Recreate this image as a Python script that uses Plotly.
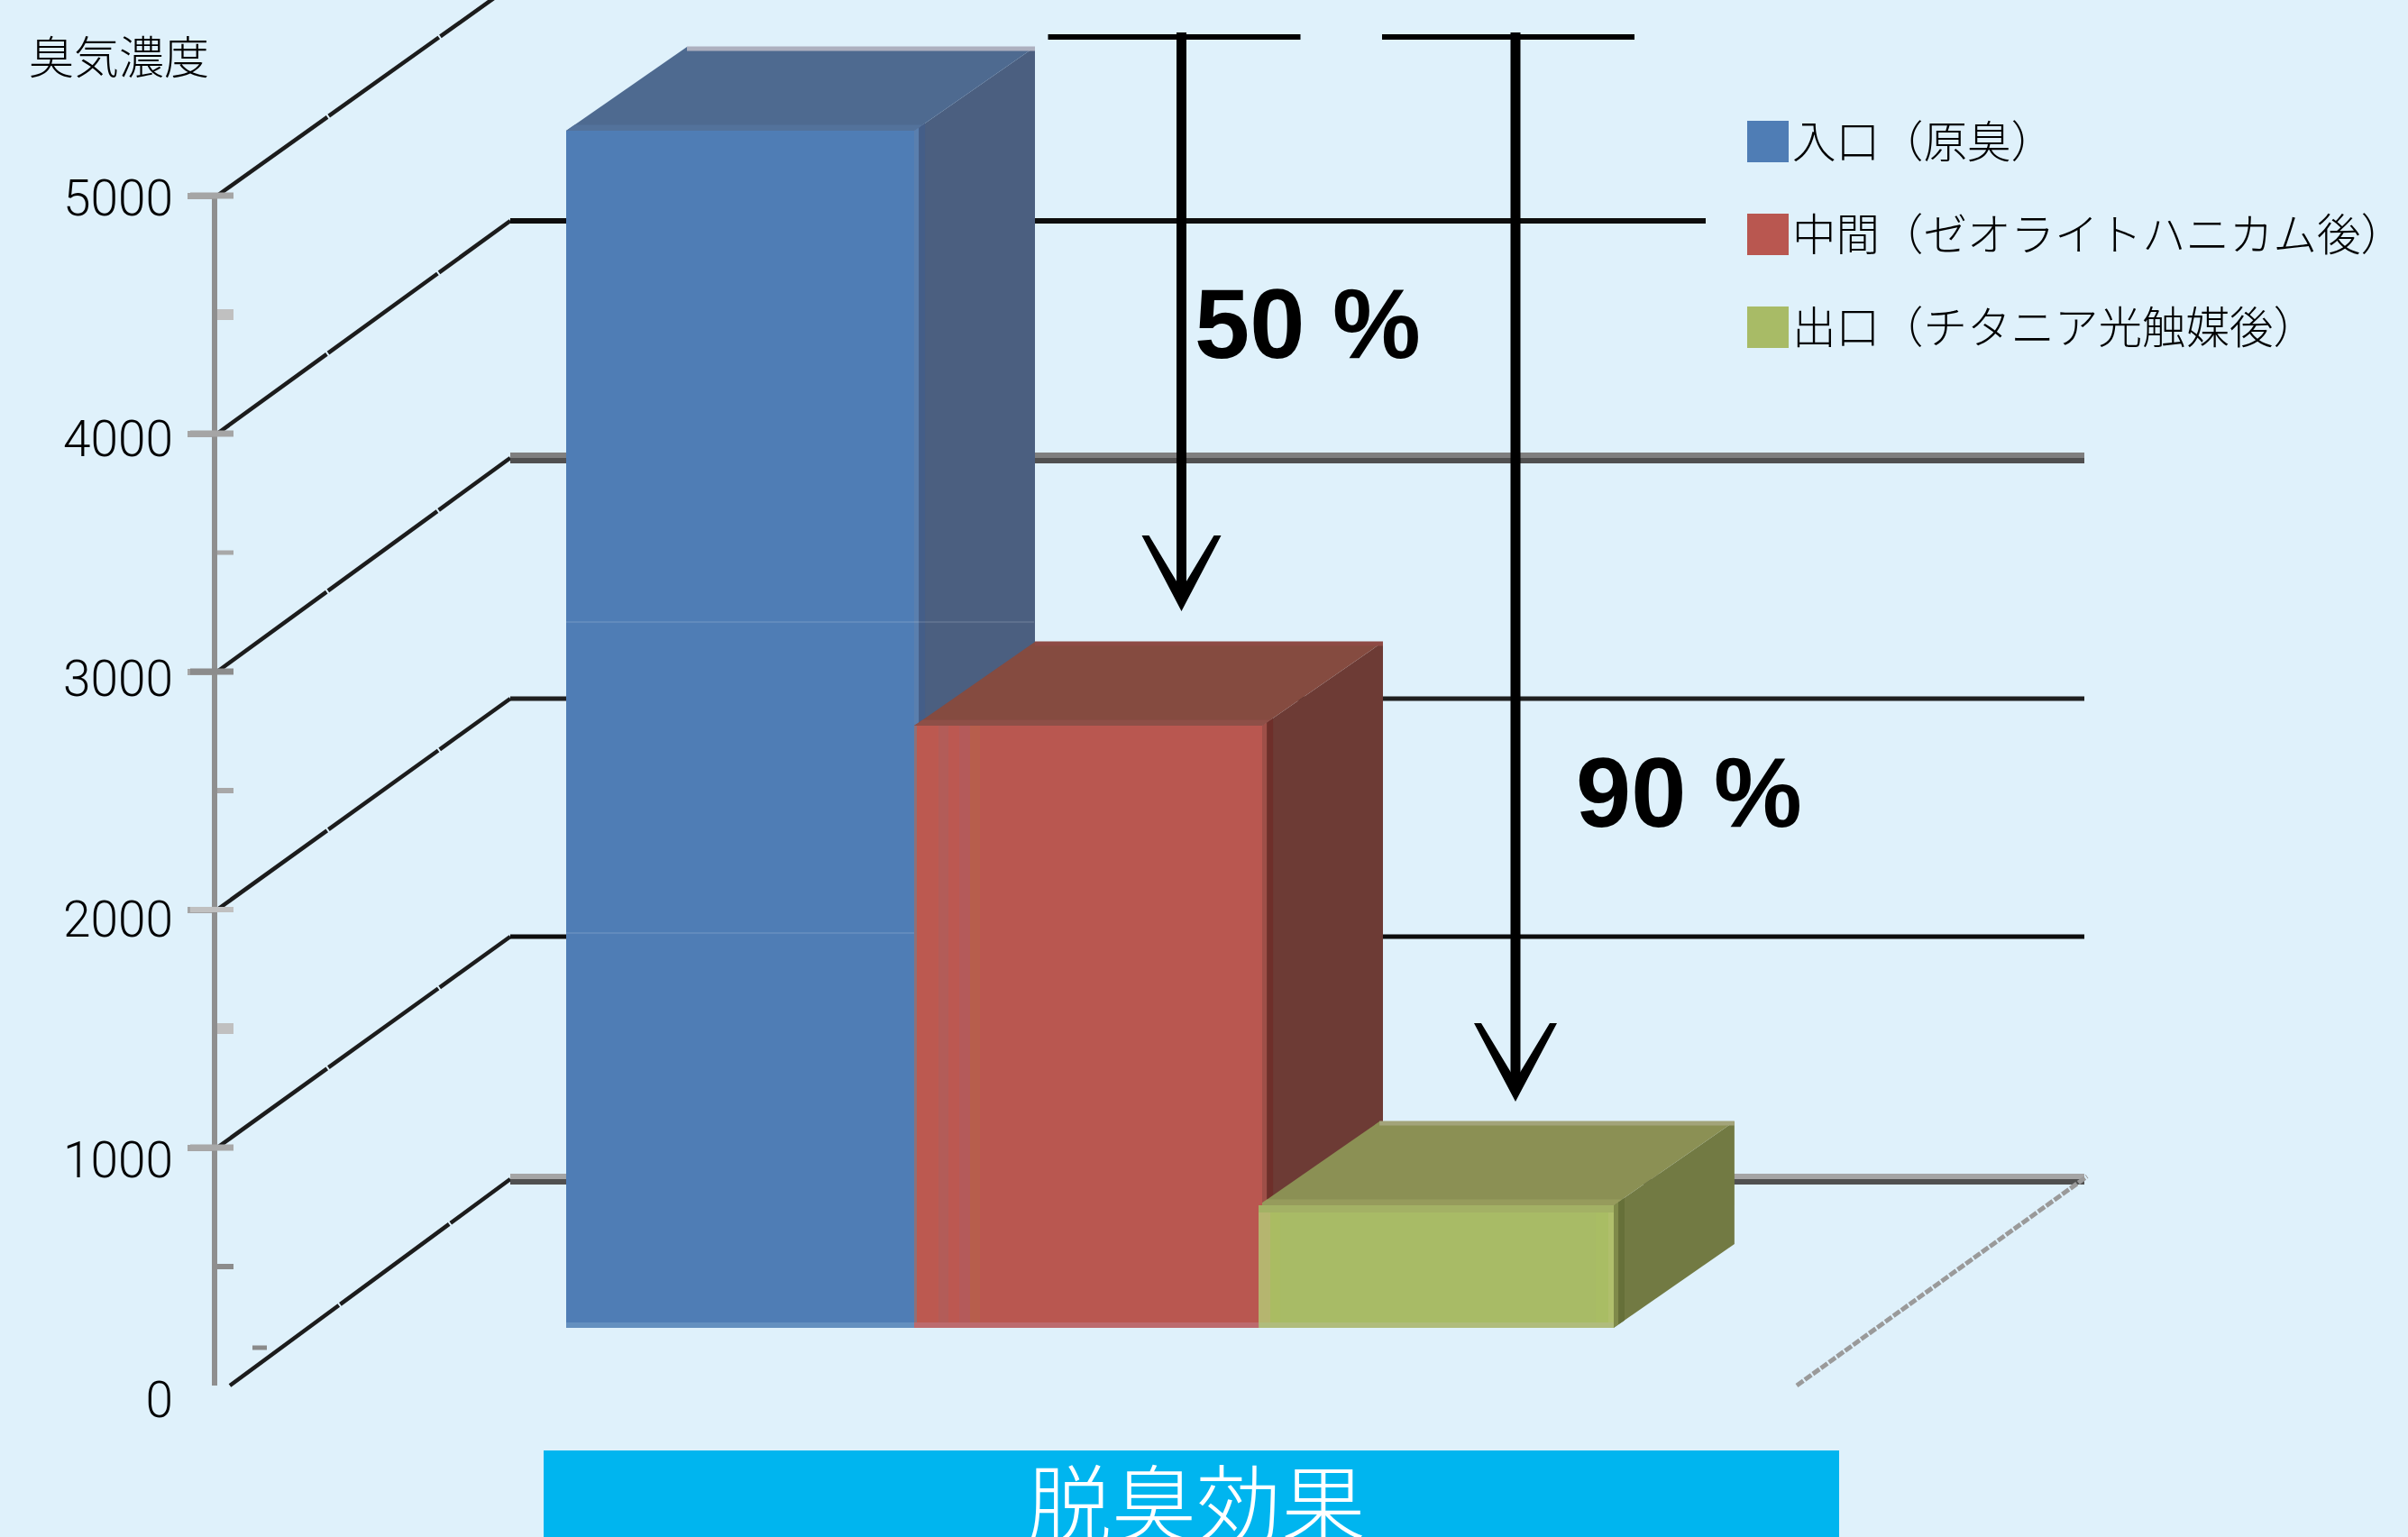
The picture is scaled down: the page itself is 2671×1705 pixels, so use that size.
import plotly.graph_objects as go

# ---------- data ----------
series_names = ["入口（原臭）", "中間（ゼオライトハニカム後）", "出口（チタニア光触媒後）"]
series_values = [5030, 2530, 515]
category_pos = [0, 1, 2]
bar_widths = [1, 1, 1.02]
y_ticks = [0, 1000, 2000, 3000, 4000, 5000]
minor_ticks = [500, 1500, 2500, 3500, 4500]
axis_title = "臭気濃度"
category_label = "脱臭効果"
reductions = ["50 %", "90 %"]

# ---------- style ----------
W, H = 2671, 1705
BG = "#DFF1FB"
front = ["#4F7DB5", "#B95750", "#A8BB66"]
top = ["#4E6A90", "#854B40", "#8B9054"]
side = ["#4B5F80", "#6D3B35", "#727A43"]
edge = ["#ADB0BF", "#8E4A45", "#A3A47A"]
top_rim = ["#53729B", "#8E4F47", "#969B5C"]
side_rim = [("#5A7FAE", "#445E88"), ("#9E4F48", "#6E2F2A"), ("#7F8A4A", "#667039")]
base_rim = ["#6490BF", "#BC6B6E", "#B0BC7C"]

Y0, PXV = 1537, 264 / 1000     # pixel of value 0, pixels per value
X0, PXU = 821, 386             # pixel of category 0, pixels per category
FLOOR = 64 / PXV               # bar base, lifted by the oblique floor
DEPTH_U, DEPTH_V = 134 / PXU, 93 / PXV  # bar depth projection
WALL_DX, WALL_DV = 325, 232 / PXV       # back wall projection


def px(x):
    return x / W


def py(y):
    return 1 - y / H


shapes = []


def poly(pts, fill, layer="below"):
    path = "M " + " L ".join(f"{a},{b}" for a, b in pts) + " Z"
    shapes.append(dict(type="path", path=path, xref="x", yref="y", fillcolor=fill,
                       line=dict(width=0), layer=layer))


def seg(x0, y0, x1, y1, color, width, xref="paper", yref="paper", layer="below", dash=None):
    shapes.append(dict(type="line", x0=x0, y0=y0, x1=x1, y1=y1, xref=xref, yref=yref,
                       line=dict(color=color, width=width, dash=dash or "solid"), layer=layer))


# back wall grid lines and oblique lines
grid_style = {
    0: [("#A5A5A5", 6, -3), ("#505050", 6, 3)],
    1000: [("#0D0D0D", 5, 0)],
    2000: [("#1F1F1F", 5, 0)],
    3000: [("#7F7F7F", 6, -3), ("#505050", 6, 3)],
    4000: [("#0D0D0D", 6, 0)],
}
grid_nudge = {0: 3, 1000: -2, 2000: -2, 3000: -5, 4000: -4, 5000: 0}
grid_end = {0: 2312, 1000: 2312, 2000: 2312, 3000: 2312, 4000: 1892}
WALL_X = 566
for v in y_ticks:
    wall = v + WALL_DV - grid_nudge[v] / PXV
    x_start = 255 if v == 0 else 241
    seg(px(x_start), v, px(WALL_X), wall, "#1C1C1C", 4.5, yref="y", dash="150px,2px")
    if v in grid_style:
        for color, w, off in grid_style[v]:
            seg(px(WALL_X), wall - off / PXV, px(grid_end[v]), wall - off / PXV, color, w, yref="y")

seg(px(1993), 0, px(2315), WALL_DV, "#9A9A9A", 5, yref="y", dash="9px,2px")
seg(px(280), py(1495), px(296), py(1495), "#8A8A8A", 5)

# tick marks crossing the axis line, each with its own grey
tick_style = {1000: ("#A8A8A8", 7), 2000: ("#C0C0C0", 6), 3000: ("#8C8C8C", 7), 4000: ("#A5A5A5", 7),
              5000: ("#A5A5A5", 7)}
for v, (c, w) in tick_style.items():
    seg(px(211), v, px(259), v, c, w, yref="y", layer="above")
minor_style = {500: ("#8C8C8C", 6), 1500: ("#C0C0C0", 12), 2500: ("#A8A8A8", 6), 3500: ("#A8A8A8", 5),
               4500: ("#C0C0C0", 12)}
for v, (c, w) in minor_style.items():
    seg(px(241), v, px(259), v, c, w, yref="y", layer="above")

# depth faces of the bars, from the values
for i, val in enumerate(series_values):
    u0 = category_pos[i] - bar_widths[i] / 2
    u1 = category_pos[i] + bar_widths[i] / 2
    t = FLOOR + val
    poly([(u1, FLOOR), (u1 + DEPTH_U, FLOOR + DEPTH_V), (u1 + DEPTH_U, t + DEPTH_V), (u1, t)], side[i])
    poly([(u0, t), (u0 + DEPTH_U, t + DEPTH_V), (u1 + DEPTH_U, t + DEPTH_V), (u1, t)], top[i])
    # soft rims on the depth faces
    for (f0, f1), c in zip([(0, 0.04), (0.04, 0.09)], side_rim[i]):
        poly([(u1 + f0 * DEPTH_U, FLOOR + f0 * DEPTH_V), (u1 + f1 * DEPTH_U, FLOOR + f1 * DEPTH_V),
              (u1 + f1 * DEPTH_U, t + f1 * DEPTH_V), (u1 + f0 * DEPTH_U, t + f0 * DEPTH_V)], c)
    poly([(u0, t), (u0 + 0.07 * DEPTH_U, t + 0.07 * DEPTH_V), (u1 + 0.07 * DEPTH_U, t + 0.07 * DEPTH_V), (u1, t)],
         top_rim[i])
    # pale back edge of the top face
    shapes.append(dict(type="line", x0=u0 + DEPTH_U, x1=u1 + DEPTH_U,
                       y0=t + DEPTH_V - 2 / PXV, y1=t + DEPTH_V - 2 / PXV,
                       xref="x", yref="y", line=dict(color=edge[i], width=5), layer="below"))

fig = go.Figure()
for i, name in enumerate(series_names):
    fig.add_trace(go.Bar(x=[category_pos[i]], y=[series_values[i]], base=[FLOOR], width=[bar_widths[i]],
                         name=name, marker=dict(color=front[i], line=dict(width=0)), showlegend=False))

# invisible carriers for the value axis and its labels
fig.add_trace(go.Scatter(x=[0] * len(y_ticks), y=y_ticks, yaxis="y2", mode="lines", opacity=0,
                         hoverinfo="skip", showlegend=False))
fig.add_trace(go.Scatter(x=[0] * len(y_ticks), y=y_ticks, yaxis="y3", mode="lines", opacity=0,
                         hoverinfo="skip", showlegend=False))

# vertical colour banding on the front faces
band_style = [
    (1, 1014, 1017, "#8E7078"), (1, 1017, 1041, "#BC5950"), (1, 1041, 1052, "#B35C58"),
    (1, 1052, 1064, "#BC5851"), (1, 1064, 1076, "#B45A5A"), (1, 1076, 1087, "#B75E4C"),
    (2, 1396, 1409, "#B5B56F"), (2, 1409, 1420, "#AABC62"), (2, 1770, 1784, "#A9BD64"),
    (2, 1784, 1790, "#B0BF6C"),
]
for i, x0, x1, c in band_style:
    shapes.append(dict(type="rect", xref="paper", yref="y", x0=px(x0), x1=px(x1), y0=FLOOR,
                       y1=FLOOR + series_values[i], fillcolor=c, line=dict(width=0), layer="above"))
for i in range(3):
    u0 = category_pos[i] - bar_widths[i] / 2
    u1 = category_pos[i] + bar_widths[i] / 2
    shapes.append(dict(type="rect", xref="x", yref="y", x0=u0, x1=u1, y0=FLOOR, y1=FLOOR + 6 / PXV,
                       fillcolor=base_rim[i], line=dict(width=0), layer="above"))
shapes.append(dict(type="rect", xref="x", yref="y", x0=category_pos[2] - bar_widths[2] / 2,
                   x1=category_pos[2] + bar_widths[2] / 2, y0=FLOOR + series_values[2] - 8 / PXV,
                   y1=FLOOR + series_values[2], fillcolor="#A3B165", line=dict(width=0), layer="above"))

# faint seams crossing the blue bar
for y in (690, 1035):
    seg(px(628), py(y), px(1147 if y == 690 else 1014), py(y), "rgba(255,255,255,0.22)", 1, layer="above")

# reduction arrows
for xc, tip, head, hw in [(1310.5, 678, 594, 44), (1681, 1222, 1135, 46)]:
    seg(px(xc - 148), py(41), px(xc + 132), py(41), "#000", 6, layer="above")
    seg(px(xc), py(36), px(xc), py(tip - 12), "#000", 11, layer="above")
    shapes.append(dict(type="path", xref="paper", yref="paper", layer="above", fillcolor="#000",
                       line=dict(width=0),
                       path=(f"M {px(xc - hw)},{py(head)} L {px(xc - hw + 8)},{py(head)} "
                             f"L {px(xc)},{py(tip - 24)} L {px(xc + hw - 8)},{py(head)} "
                             f"L {px(xc + hw)},{py(head)} L {px(xc)},{py(tip)} Z")))

# category band
shapes.append(dict(type="rect", xref="paper", yref="paper", x0=px(603), x1=px(2040), y0=py(1609), y1=0,
                   fillcolor="#00B5EF", line=dict(width=0), layer="above"))

CJK = "Noto Sans CJK JP"
annotations = [
    dict(x=px(30), y=py(60), text=axis_title, xanchor="left", yanchor="middle",
         font=dict(family=CJK, size=50, color="#000", weight=300), xref="paper", yref="paper", showarrow=False),
    dict(x=px(1327), y=py(1663), text=category_label, xanchor="center", yanchor="middle",
         font=dict(family=CJK, size=94, color="#fff", weight=300), xref="paper", yref="paper", showarrow=False),
    dict(x=px(1323), y=py(358), text=reductions[0], xanchor="left", yanchor="middle",
         font=dict(family="Liberation Sans", size=110, color="#000", weight=700),
         xref="paper", yref="paper", showarrow=False),
    dict(x=px(1746), y=py(879), text=reductions[1], xanchor="left", yanchor="middle",
         font=dict(family="Liberation Sans", size=110, color="#000", weight=700),
         xref="paper", yref="paper", showarrow=False),
]

# legend
for i, (name, yc) in enumerate(zip(series_names, [157, 260, 363])):
    shapes.append(dict(type="rect", xref="paper", yref="paper", x0=px(1938), x1=px(1984),
                       y0=py(yc - 23), y1=py(yc + 23), fillcolor=front[i], line=dict(width=0), layer="above"))
    annotations.append(dict(x=px(1986), y=py(yc - 3), text=name, xanchor="left", yanchor="middle",
                            font=dict(family=CJK, size=48.5, color="#000", weight=300),
                            xref="paper", yref="paper", showarrow=False))

fig.update_layout(
    template="none",
    width=W, height=H, margin=dict(l=0, r=0, t=0, b=0, pad=0),
    paper_bgcolor=BG, plot_bgcolor="rgba(0,0,0,0)", showlegend=False, barmode="overlay",
    font=dict(family=CJK),
    xaxis=dict(visible=False, range=[(0 - X0) / PXU, (W - X0) / PXU], domain=[0, 1], automargin=False),
    yaxis=dict(visible=False, range=[(Y0 - H) / PXV, Y0 / PXV], domain=[0, 1], automargin=False),
    yaxis2=dict(
        anchor="free", position=px(238), side="left", automargin=False,
        domain=[py(Y0), py(Y0 - 5000 * PXV)], range=[0, 5000],
        tickvals=y_ticks[1:], showticklabels=False,
        ticks="outside", ticklen=27, tickwidth=7, tickcolor="#A5A5A5",
        showline=True, linecolor="#8F8F8F", linewidth=6, showgrid=False, zeroline=False,
    ),
    yaxis3=dict(
        anchor="free", position=px(192), side="left", automargin=False,
        domain=[py(1553), py(220)], range=[0, 5000],
        tickvals=y_ticks, ticktext=[str(v) for v in y_ticks], ticks="",
        tickfont=dict(family="Roboto", size=55, color="#000", weight=300),
        showline=False, showgrid=False, zeroline=False,
    ),
    shapes=shapes, annotations=annotations,
)

fig.write_html("out.html", config=dict(displayModeBar=False),
               post_script="document.body.style.margin='0';document.body.style.overflow='hidden';")
